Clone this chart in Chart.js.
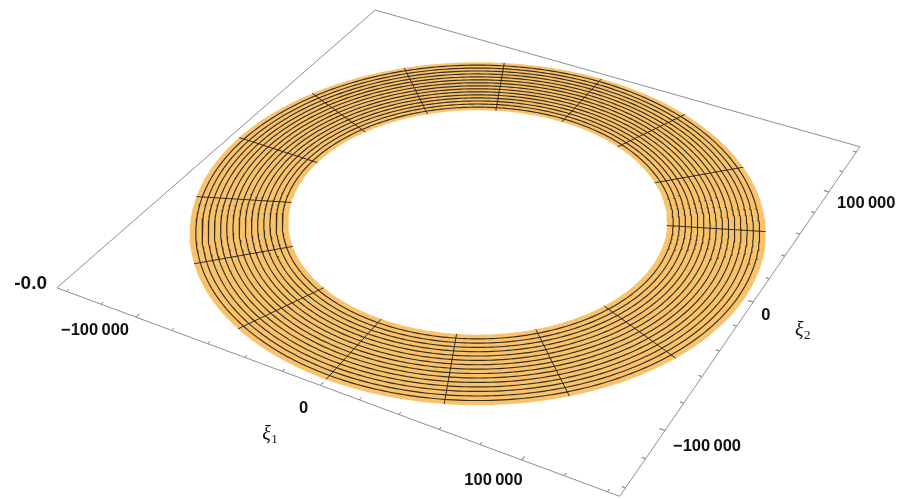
<!DOCTYPE html>
<html>
<head>
<meta charset="utf-8">
<script src="https://cdn.jsdelivr.net/npm/chart.js@4.4.1/dist/chart.umd.min.js"></script>
<style>
  html, body { margin: 0; padding: 0; background: #ffffff; }
  canvas { display: block; }
</style>
</head>
<body>
<canvas id="ring" width="912" height="499"></canvas>
<script>
// Flat ring in the (ξ1, ξ2) plane at height 0, shown in a perspective box.
const innerRadius = 93000;
const outerRadius = 141000;

// mesh lines drawn on the ring surface
const meshRadii = [96000, 99000, 102000, 105000, 108000, 111000, 114000, 117000,
                   120000, 123000, 126000, 129000, 132000, 135000, 138000];
const meshAnglesDeg = [22.5, 45, 67.5, 90, 112.5, 135, 157.5, 180,
                       202.5, 225, 247.5, 270, 292.5, 315, 337.5];

// box extent and axis ticks
const plotRange = [-145600, 145600];
const minorTicks = [-140000, -120000, -100000, -80000, -60000, -40000, -20000, 0,
                    20000, 40000, 60000, 80000, 100000, 120000, 140000];
const majorTicks = [-100000, 0, 100000];
const majorTickLabels = ['\u2212100\u2009000', '0', '100\u2009000'];
const zTickLabel = '-0.0';

// ---- 3D view (view point in box-scaled coordinates) ----
const viewPoint = [1.3, -2.4, 2];
const span = plotRange[1] - plotRange[0];
const mid = (plotRange[0] + plotRange[1]) / 2;
const toBox = v => (v - mid) / span;
const dot = (a, b) => a[0] * b[0] + a[1] * b[1] + a[2] * b[2];
const len = a => Math.hypot(a[0], a[1], a[2]);
const fwd = viewPoint.map(c => -c / len(viewPoint));
let right = [fwd[1], -fwd[0], 0];
right = right.map(c => c / len(right));
const upv = [right[1] * fwd[2] - right[2] * fwd[1],
             right[2] * fwd[0] - right[0] * fwd[2],
             right[0] * fwd[1] - right[1] * fwd[0]];

function projectBox(u, v, w = 0) {
  const d = [u - viewPoint[0], v - viewPoint[1], w - viewPoint[2]];
  const depth = dot(d, fwd);
  return { x: dot(d, right) / depth, y: dot(d, upv) / depth };
}
const project = (x1, x2) => projectBox(toBox(x1), toBox(x2));

// image-plane window shown by the chart
const view = { cx: 477.7, cy: 213.9, zoom: 2000, w: 912, h: 499 };

// ---- datasets ----
function circle(radius, n = 360) {
  const pts = [];
  for (let i = 0; i <= n; i++) {
    const t = 2 * Math.PI * i / n;
    pts.push(project(radius * Math.cos(t), radius * Math.sin(t)));
  }
  return pts;
}

const meshColor = 'rgba(40,34,28,0.92)';
const lineStyle = (data, color, width, order) => ({
  data, borderColor: color, borderWidth: width, pointRadius: 0,
  tension: 0, fill: false, order
});

const datasets = [];

// ring body and hole
datasets.push({
  data: circle(outerRadius), borderWidth: 0, borderColor: 'rgba(0,0,0,0)',
  backgroundColor: '#f9c36c', fill: 'shape', pointRadius: 0, tension: 0, order: 20
});
datasets.push({
  data: circle(innerRadius), borderWidth: 0, borderColor: 'rgba(0,0,0,0)',
  backgroundColor: '#ffffff', fill: 'shape', pointRadius: 0, tension: 0, order: 19
});

// concentric mesh
meshRadii.forEach(r => datasets.push(lineStyle(circle(r), meshColor, 1.15, 2)));
// radial mesh
meshAnglesDeg.forEach(a => {
  const t = a * Math.PI / 180;
  datasets.push(lineStyle([
    project(innerRadius * Math.cos(t), innerRadius * Math.sin(t)),
    project(outerRadius * Math.cos(t), outerRadius * Math.sin(t))
  ], meshColor, 1.0, 1));
});

// box edges; the two front edges carry inward tick marks
const [lo, hi] = [-0.5, 0.5];
const boxColor = '#8e8e8e';
const tickLen = v => (majorTicks.includes(v) ? 0.009 : 0.006);

const xi1Edge = [projectBox(lo, lo)];
minorTicks.forEach(v => {
  const u = toBox(v);
  xi1Edge.push(projectBox(u, lo), projectBox(u, lo + tickLen(v)), projectBox(u, lo));
});
xi1Edge.push(projectBox(hi, lo));

const xi2Edge = [projectBox(hi, lo)];
minorTicks.forEach(v => {
  const w = toBox(v);
  xi2Edge.push(projectBox(hi, w), projectBox(hi - tickLen(v), w), projectBox(hi, w));
});
xi2Edge.push(projectBox(hi, hi));

datasets.push(lineStyle(xi1Edge, boxColor, 1, 5));
datasets.push(lineStyle(xi2Edge, boxColor, 1, 5));
datasets.push(lineStyle([projectBox(hi, hi), projectBox(lo, hi), projectBox(lo, lo)], boxColor, 1, 5));

// ---- text drawn at projected positions ----
// ξ1 labels sit below the front-left edge, nudged along the edge per label width
const xi1LabelShift = [-0.037, 0.006, -0.016];

const labelPlugin = {
  id: 'boxLabels',
  afterDatasetsDraw(chart) {
    const { ctx, scales: { x, y } } = chart;
    const px = p => [x.getPixelForValue(p.x), y.getPixelForValue(p.y)];
    ctx.save();
    ctx.fillStyle = '#111111';

    ctx.font = 'bold 16.5px "Liberation Sans", Arial, sans-serif';
    ctx.textAlign = 'center';
    ctx.textBaseline = 'middle';
    majorTicks.forEach((v, i) => {
      const [a, b] = px(projectBox(toBox(v) + xi1LabelShift[i], -0.557));
      ctx.fillText(majorTickLabels[i], a, b);
    });
    // ξ2 tick labels, right of the front-right edge
    ctx.textAlign = 'left';
    majorTicks.forEach((v, i) => {
      const [a, b] = px(projectBox(0.524, toBox(v) - 0.025));
      ctx.fillText(majorTickLabels[i], a, b);
    });
    // height tick label at the left corner
    ctx.font = 'bold 19px "Liberation Sans", Arial, sans-serif';
    ctx.textAlign = 'right';
    const [zx, zy] = px(projectBox(-0.52, -0.5));
    ctx.fillText(zTickLabel, zx, zy);

    // axis labels ξ1, ξ2
    const axisLabel = (p, sub) => {
      const [a, b] = px(p);
      ctx.font = 'italic 20px "Liberation Serif", "DejaVu Serif", serif';
      const wMain = ctx.measureText('ξ').width;
      ctx.font = '13px "Liberation Serif", "DejaVu Serif", serif';
      const wSub = ctx.measureText(sub).width;
      const left = a - (wMain + wSub) / 2;
      ctx.textAlign = 'left';
      ctx.font = 'italic 20px "Liberation Serif", "DejaVu Serif", serif';
      ctx.fillText('ξ', left, b);
      ctx.font = '13px "Liberation Serif", "DejaVu Serif", serif';
      ctx.fillText(sub, left + wMain + 0.5, b + 5);
    };
    axisLabel(projectBox(-0.007, -0.629), '1');
    axisLabel(projectBox(0.595, -0.03), '2');
    ctx.restore();
  }
};

new Chart(document.getElementById('ring'), {
  type: 'line',
  data: { datasets },
  options: {
    responsive: false,
    animation: false,
    devicePixelRatio: 1,
    layout: { padding: 0 },
    plugins: { legend: { display: false }, tooltip: { enabled: false } },
    elements: { line: { borderCapStyle: 'butt', borderJoinStyle: 'miter' } },
    scales: {
      x: { type: 'linear', display: false,
           min: -view.cx / view.zoom, max: (view.w - view.cx) / view.zoom },
      y: { type: 'linear', display: false,
           min: (view.cy - view.h) / view.zoom, max: view.cy / view.zoom }
    }
  },
  plugins: [labelPlugin]
});
</script>
</body>
</html>
